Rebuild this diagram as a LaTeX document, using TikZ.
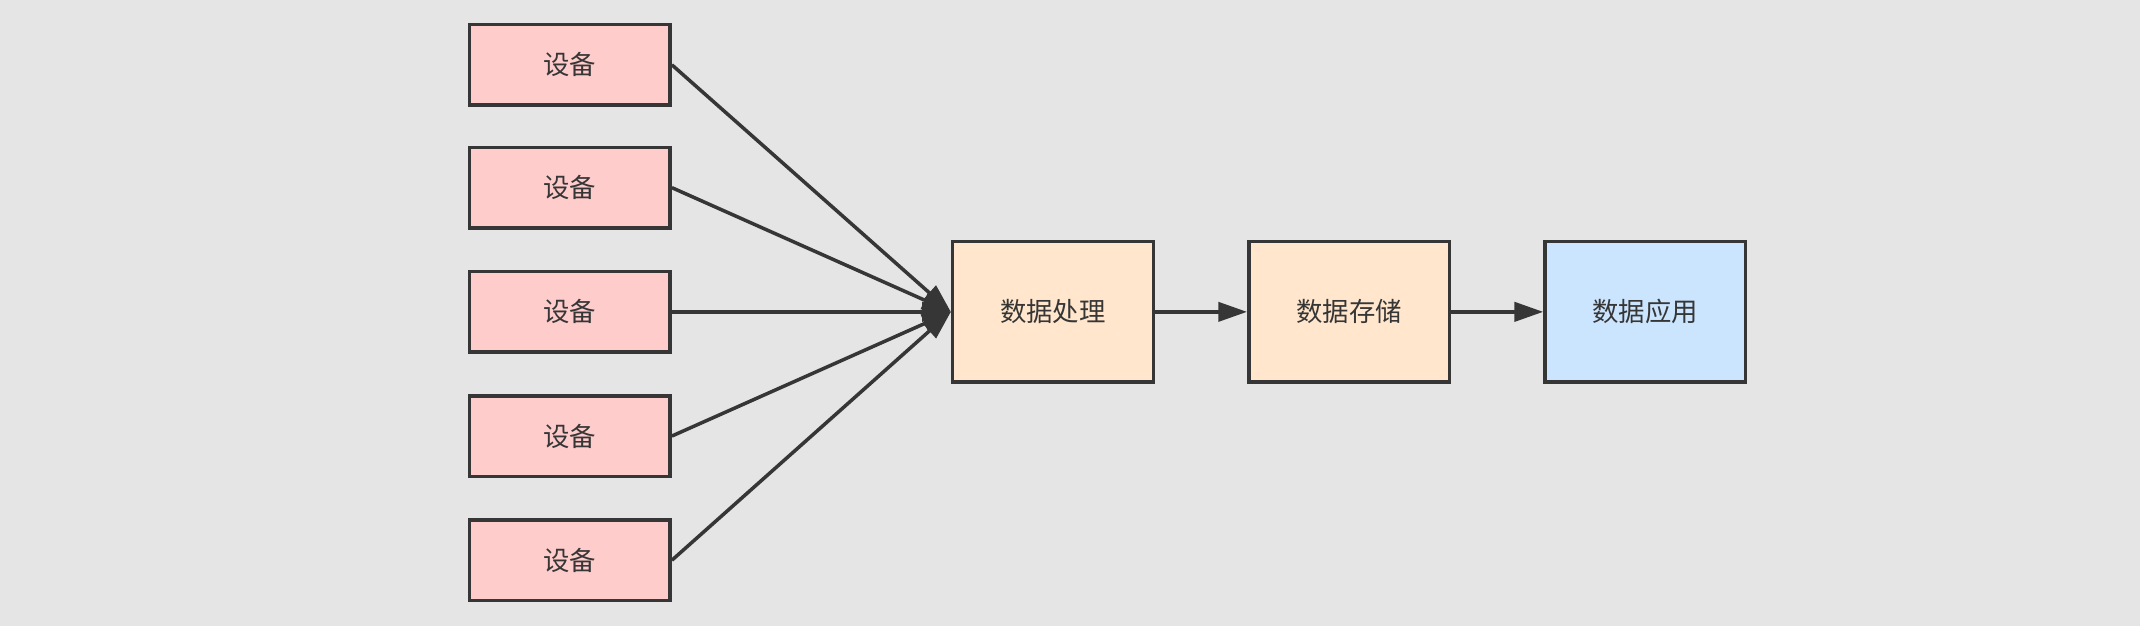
\documentclass[tikz,border=0pt]{standalone}
\usepackage{fontspec}
\newfontfamily\cjk{Noto Sans CJK SC}
\usetikzlibrary{arrows.meta}
\definecolor{bg}{HTML}{E5E5E5}
\definecolor{pinkf}{HTML}{FFCCCC}
\definecolor{orangef}{HTML}{FFE6CC}
\definecolor{bluef}{HTML}{CCE5FF}
\definecolor{stroke}{HTML}{363636}
\tikzset{
  box/.style={draw=stroke, line width=2.2pt, minimum width=147*0.03cm, font=\cjk\fontsize{16.5}{18}\selectfont, text=stroke},
  dev/.style={box, fill=pinkf, minimum height=59*0.03cm},
  big/.style={box, minimum height=103*0.03cm},
  conn/.style={draw=stroke, line width=2.2pt, -{Triangle[length=18pt,width=12pt]}}
}
\begin{document}
\begin{tikzpicture}[x=0.03cm,y=-0.03cm]
\fill[bg] (0,0) rectangle (1568,459);
\useasboundingbox (0,0) rectangle (1568,459);
\foreach \i/\y in {1/47.5,2/137.5,3/228.5,4/319.5,5/410.5}
  \node[dev] (d\i) at (417.5,\y) {设备};
\node[big, fill=orangef] (p) at (771.5,228.5) {数据处理};
\node[big, fill=orangef] (s) at (988.5,228.5) {数据存储};
\node[big, fill=bluef] (a) at (1205.5,228.5) {数据应用};
\foreach \i in {1,...,5} \draw[conn] (d\i.east) -- (p.west);
\draw[conn] (p) -- (s);
\draw[conn] (s) -- (a);
\end{tikzpicture}
\end{document}
